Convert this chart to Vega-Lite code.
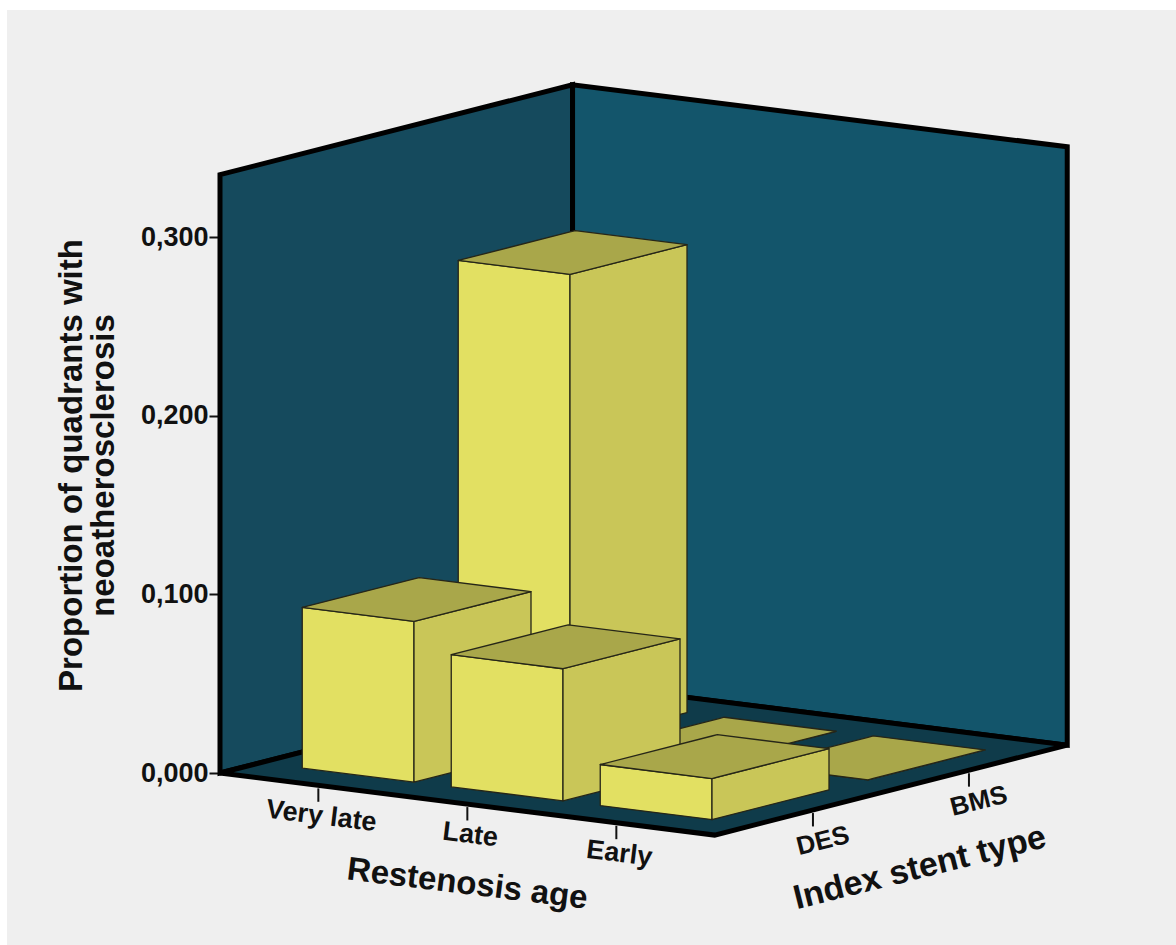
{
  "$schema": "https://vega.github.io/schema/vega-lite/v6.json",
  "width": 1169,
  "height": 935,
  "autosize": "none",
  "padding": {"left": 7, "top": 10, "right": 0, "bottom": 0},
  "background": "#ffffff",
  "config": {
    "view": {"stroke": null, "fill": "#efefef"},
    "text": {"font": "Liberation Sans", "fontWeight": "bold", "color": "#111111"}
  },
  "resolve": {"scale": {"color": "independent"}},
  "datasets": {
    "proportions": [
      {"stent": "BMS", "age": "Very late", "proportion": 0.262},
      {"stent": "BMS", "age": "Late", "proportion": 0},
      {"stent": "BMS", "age": "Early", "proportion": 0},
      {"stent": "DES", "age": "Very late", "proportion": 0.09},
      {"stent": "DES", "age": "Late", "proportion": 0.074},
      {"stent": "DES", "age": "Early", "proportion": 0.023}
    ],
    "frame": [
      {"part": "left wall"},
      {"part": "back wall"},
      {"part": "floor"}
    ]
  },
  "encoding": {
    "x": {
      "field": "sx",
      "type": "quantitative",
      "scale": {"domain": [-213, 956], "nice": false, "zero": false},
      "axis": null
    },
    "y": {
      "field": "sy",
      "type": "quantitative",
      "stack": null,
      "scale": {"domain": [-0.0963, 0.42721], "nice": false, "zero": false},
      "axis": {
        "values": [0, 0.1, 0.2, 0.3],
        "labelExpr": "replace(format(datum.value, '.3f'), '.', ',')",
        "offset": -213,
        "domain": false,
        "grid": false,
        "ticks": true,
        "tickSize": 11,
        "tickWidth": 2,
        "tickColor": "#111111",
        "labelFont": "Liberation Sans",
        "labelFontWeight": "bold",
        "labelFontSize": 27,
        "labelColor": "#111111",
        "labelPadding": 1,
        "title": ["Proportion of quadrants with", "neoatherosclerosis"],
        "titleFont": "Liberation Sans",
        "titleFontWeight": "bold",
        "titleFontSize": 33,
        "titleLineHeight": 32,
        "titleColor": "#111111",
        "titleAngle": -90,
        "titleAlign": "center",
        "titleBaseline": "middle",
        "titleX": -149,
        "titleY": 455
      }
    }
  },
  "layer": [
    {
      "data": {"name": "frame"},
      "transform": [
        {"calculate": "0", "as": "p0"},
        {"calculate": "0", "as": "p1"},
        {"calculate": "0", "as": "p2"},
        {"calculate": "0", "as": "p3"},
        {"fold": ["p0", "p1", "p2", "p3"], "as": ["pt", "unused"]},
        {"calculate": "datum.part === 'left wall' ? 0 : datum.part === 'back wall' ? (datum.pt < 'p2' ? 0 : 3.32) : (datum.pt === 'p0' ? 0 : datum.pt === 'p1' ? 2.3664 : 3.32)", "as": "La"},
        {"calculate": "datum.part === 'left wall' ? (datum.pt < 'p2' ? 0 : 2.26) : datum.part === 'back wall' ? 2.26 : (datum.pt === 'p3' ? 2.26 : 0)", "as": "Lb"},
        {"calculate": "datum.part === 'floor' ? (datum.pt < 'p2' ? 0 : datum.pt === 'p2' ? 0.9537 : 3.32) : datum.La", "as": "Ua"},
        {"calculate": "datum.part === 'floor' ? (datum.pt === 'p0' ? 0 : 2.26) : datum.Lb", "as": "Ub"},
        {"calculate": "datum.part === 'floor' ? 0 : 0.335", "as": "Uv"},
        {"calculate": "149 * datum.La + 156 * datum.Lb", "as": "sx"},
        {"calculate": "-0.01047 * datum.La + 0.022284 * datum.Lb", "as": "sy"},
        {"calculate": "datum.Uv - 0.01047 * datum.Ua + 0.022284 * datum.Ub", "as": "sy2"}
      ],
      "mark": {"type": "area", "stroke": "#000000", "strokeWidth": 5, "strokeJoin": "miter", "opacity": 1},
      "encoding": {
        "y2": {"field": "sy2"},
        "color": {
          "field": "part",
          "type": "nominal",
          "scale": {"domain": ["left wall", "back wall", "floor"], "range": ["#154a5d", "#13556b", "#0f3b4a"]},
          "legend": null
        },
        "detail": {"field": "part"}
      }
    },
    {
      "data": {"name": "proportions"},
      "transform": [
        {"calculate": "indexof(['Very late', 'Late', 'Early'], datum.age) + 0.125", "as": "i0"},
        {"calculate": "indexof(['DES', 'BMS'], datum.stent) + 0.125", "as": "j0"},
        {"calculate": "datum.i0 + 0.75", "as": "i1"},
        {"calculate": "datum.j0 + 0.75", "as": "j1"},
        {"calculate": "0", "as": "front"},
        {"calculate": "0", "as": "side"},
        {"calculate": "0", "as": "top"},
        {"fold": ["front", "side", "top"], "as": ["face", "unusedFace"]},
        {"calculate": "0", "as": "p0"},
        {"calculate": "0", "as": "p1"},
        {"calculate": "0", "as": "p2"},
        {"calculate": "0", "as": "p3"},
        {"fold": ["p0", "p1", "p2", "p3"], "as": ["pt", "unusedPt"]},
        {"calculate": "datum.face === 'front' ? (datum.pt < 'p2' ? datum.i0 : datum.i1) : datum.face === 'side' ? datum.i1 : (datum.pt === 'p0' ? datum.i0 : datum.i1)", "as": "Li"},
        {"calculate": "datum.face === 'front' ? datum.j0 : datum.face === 'side' ? (datum.pt < 'p2' ? datum.j0 : datum.j1) : (datum.pt < 'p2' ? datum.j0 : datum.pt === 'p2' ? datum.j1 - 0.71635 : datum.j1)", "as": "Lj"},
        {"calculate": "datum.face === 'top' ? (datum.pt === 'p3' ? datum.i1 : datum.i0) : datum.Li", "as": "Ui"},
        {"calculate": "datum.face === 'top' ? (datum.pt === 'p0' ? datum.j0 : datum.pt === 'p1' ? datum.j0 + 0.71635 : datum.j1) : datum.Lj", "as": "Uj"},
        {"calculate": "datum.face === 'top' ? datum.proportion : 0", "as": "Lv"},
        {"calculate": "149 * (datum.Li + 0.16) + 156 * (datum.Lj + 0.13)", "as": "sx"},
        {"calculate": "datum.Lv - 0.01047 * (datum.Li + 0.16) + 0.022284 * (datum.Lj + 0.13)", "as": "sy"},
        {"calculate": "datum.proportion - 0.01047 * (datum.Ui + 0.16) + 0.022284 * (datum.Uj + 0.13)", "as": "sy2"},
        {"calculate": "datum.stent + ' ' + datum.age + ' ' + datum.face", "as": "piece"}
      ],
      "mark": {"type": "area", "stroke": "#262618", "strokeWidth": 1.3, "strokeJoin": "round", "opacity": 1},
      "encoding": {
        "y2": {"field": "sy2"},
        "color": {
          "field": "face",
          "type": "nominal",
          "scale": {"domain": ["front", "side", "top"], "range": ["#e2e062", "#c9c658", "#a9a74a"]},
          "legend": null
        },
        "detail": {"field": "piece"}
      }
    },
    {
      "data": {"name": "proportions"},
      "transform": [
        {"filter": "datum.stent === 'DES'"},
        {"calculate": "indexof(['Very late', 'Late', 'Early'], datum.age) + 0.66", "as": "a"},
        {"calculate": "149 * datum.a", "as": "sx"},
        {"calculate": "-0.01047 * datum.a - 0.0017", "as": "sy"},
        {"calculate": "datum.sy - 0.0075", "as": "sy2"}
      ],
      "mark": {"type": "rule", "strokeWidth": 2, "color": "#111111"},
      "encoding": {"y2": {"field": "sy2"}}
    },
    {
      "data": {"name": "proportions"},
      "transform": [
        {"filter": "datum.age === 'Very late'"},
        {"calculate": "indexof(['DES', 'BMS'], datum.stent) + 0.63", "as": "b"},
        {"calculate": "494.68 + 156 * datum.b", "as": "sx"},
        {"calculate": "-0.03476 + 0.022284 * datum.b - 0.0017", "as": "sy"},
        {"calculate": "datum.sy - 0.0075", "as": "sy2"}
      ],
      "mark": {"type": "rule", "strokeWidth": 2, "color": "#111111"},
      "encoding": {"y2": {"field": "sy2"}}
    },
    {
      "data": {"name": "proportions"},
      "transform": [
        {"filter": "datum.stent === 'DES'"},
        {"calculate": "indexof(['Very late', 'Late', 'Early'], datum.age) + 0.66", "as": "a"},
        {"calculate": "149 * datum.a + 3", "as": "sx"},
        {"calculate": "-0.01047 * datum.a - 0.01736", "as": "sy"}
      ],
      "mark": {"type": "text", "fontSize": 27, "angle": 7, "align": "center", "baseline": "middle"},
      "encoding": {"text": {"field": "age"}}
    },
    {
      "data": {"name": "proportions"},
      "transform": [
        {"filter": "datum.age === 'Very late'"},
        {"calculate": "indexof(['DES', 'BMS'], datum.stent) + 0.63", "as": "b"},
        {"calculate": "494.68 + 156 * datum.b + 10", "as": "sx"},
        {"calculate": "-0.03476 + 0.022284 * datum.b - 0.0174", "as": "sy"}
      ],
      "mark": {"type": "text", "fontSize": 26, "angle": -14, "align": "center", "baseline": "middle"},
      "encoding": {"text": {"field": "stent"}}
    },
    {
      "data": {"name": "proportions"},
      "transform": [
        {"filter": "datum.stent === 'DES'"},
        {"calculate": "indexof(['Very late', 'Late', 'Early'], datum.age) + 0.66", "as": "a"},
        {"aggregate": [{"op": "mean", "field": "a", "as": "aMid"}]},
        {"calculate": "149 * datum.aMid", "as": "sx"},
        {"calculate": "-0.01047 * datum.aMid - 0.0448", "as": "sy"}
      ],
      "mark": {"type": "text", "fontSize": 33, "angle": 7, "align": "center", "baseline": "middle"},
      "encoding": {"text": {"value": "Restenosis age"}}
    },
    {
      "data": {"name": "proportions"},
      "transform": [
        {"filter": "datum.age === 'Very late'"},
        {"calculate": "indexof(['DES', 'BMS'], datum.stent) + 0.63", "as": "b"},
        {"aggregate": [{"op": "mean", "field": "b", "as": "bMid"}]},
        {"calculate": "494.68 + 156 * datum.bMid + 29", "as": "sx"},
        {"calculate": "-0.03476 + 0.022284 * datum.bMid - 0.0437", "as": "sy"}
      ],
      "mark": {"type": "text", "fontSize": 34, "angle": -14, "align": "center", "baseline": "middle"},
      "encoding": {"text": {"value": "Index stent type"}}
    }
  ]
}
